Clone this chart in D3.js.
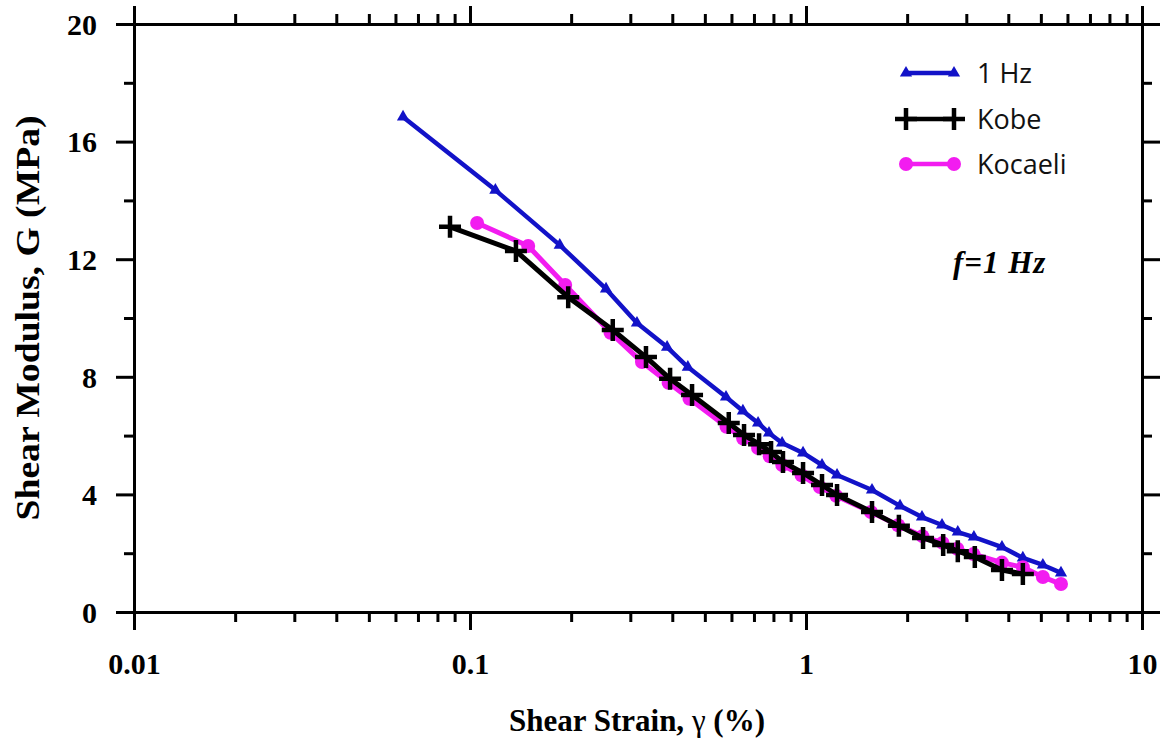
<!DOCTYPE html>
<html>
<head>
<meta charset="utf-8">
<script src="https://cdn.jsdelivr.net/npm/d3@7"></script>
<style>
  body { margin: 0; background: #fff; }
  svg { display: block; }
</style>
</head>
<body>
<svg id="canvas" width="1166" height="745"></svg>
<script>
// strain (%) and shear modulus (MPa)
const hzStrain = [0.0632, 0.119, 0.185, 0.254, 0.314, 0.386, 0.445, 0.578, 0.649, 0.72, 0.776, 0.849, 0.98, 1.116, 1.237, 1.572, 1.905, 2.214, 2.54, 2.83, 3.16, 3.83, 4.42, 5.07, 5.74]
const hzG = [16.84, 14.35, 12.48, 10.99, 9.83, 9.01, 8.33, 7.31, 6.84, 6.43, 6.09, 5.75, 5.41, 5.0, 4.66, 4.15, 3.61, 3.23, 2.96, 2.72, 2.55, 2.21, 1.84, 1.60, 1.33]

const kobeStrain = [0.0872, 0.137, 0.196, 0.266, 0.334, 0.394, 0.458, 0.589, 0.654, 0.725, 0.787, 0.854, 0.98, 1.116, 1.237, 1.572, 1.89, 2.23, 2.56, 2.83, 3.18, 3.83, 4.42]
const kobeG = [13.10, 12.28, 10.71, 9.59, 8.67, 7.93, 7.38, 6.43, 6.02, 5.71, 5.44, 5.10, 4.73, 4.32, 3.98, 3.40, 2.93, 2.52, 2.28, 2.07, 1.87, 1.43, 1.29]

const kocaeliStrain = [0.105, 0.149, 0.192, 0.262, 0.325, 0.39, 0.45, 0.58, 0.65, 0.72, 0.78, 0.85, 0.97, 1.10, 1.23, 1.56, 1.88, 2.22, 2.55, 2.82, 3.15, 3.83, 4.42, 5.07, 5.74]
const kocaeliG = [13.23, 12.45, 11.12, 9.50, 8.50, 7.80, 7.25, 6.30, 5.90, 5.58, 5.30, 5.00, 4.65, 4.25, 3.95, 3.40, 2.95, 2.58, 2.35, 2.15, 1.97, 1.68, 1.52, 1.19, 0.95]

const xMajor = [0.01, 0.1, 1, 10]
const xLabels = ['0.01', '0.1', '1', '10']
const yMajor = [0, 4, 8, 12, 16, 20]
const yMinor = [2, 6, 10, 14, 18]

const seriesNames = ['1 Hz', 'Kobe', 'Kocaeli']

let svg = d3.select('#canvas')

const plotLeft = 134, plotRight = 1142, plotTop = 24, plotBottom = 612

let x = d3.scaleLog().domain([0.01, 10]).range([plotLeft, plotRight])
let y = d3.scaleLinear().domain([0, 20]).range([plotBottom, plotTop])

let xMinor = []
for (let d = 0.01; d < 10; d *= 10) {
  for (let k = 2; k <= 9; k++) xMinor.push(+(d * k).toPrecision(3))
}

let styleAxis = g => {
  g.select('.domain').attr('stroke', '#000').attr('stroke-width', 3)
  g.selectAll('.tick line').attr('stroke', '#000').attr('stroke-width', 3)
}

let drawAxis = (axisFn, scale, majors, minors, transform, labels) => {
  let gMin = svg.append('g').attr('transform', transform)
    .call(axisFn(scale).tickValues(minors).tickSize(10).tickSizeOuter(0).tickFormat(''))
  styleAxis(gMin)
  let gMaj = svg.append('g').attr('transform', transform)
    .call(axisFn(scale).tickValues(majors).tickSize(18).tickSizeOuter(0).tickPadding(12)
      .tickFormat(labels ? labels : ''))
  styleAxis(gMaj)
  gMaj.selectAll('text')
    .attr('font-family', '"Liberation Serif", "Times New Roman", serif')
    .attr('font-weight', 'bold')
    .attr('font-size', 30)
    .attr('fill', '#000')
  return gMaj
}

drawAxis(d3.axisBottom, x, xMajor, xMinor, `translate(0,${plotBottom})`, (d, i) => xLabels[i])
  .selectAll('text').attr('dy', '1.05em')
drawAxis(d3.axisTop, x, xMajor, xMinor, `translate(0,${plotTop})`, null)
drawAxis(d3.axisLeft, y, yMajor, yMinor, `translate(${plotLeft},0)`, d => d)
  .selectAll('text').attr('dy', '0.34em').attr('x', -37)
drawAxis(d3.axisRight, y, yMajor, yMinor, `translate(${plotRight},0)`, null)

// axis titles
let xt = svg.append('text')
  .attr('x', 637).attr('y', 731)
  .attr('text-anchor', 'middle')
  .attr('font-family', '"Liberation Serif", "Times New Roman", serif')
  .attr('font-weight', 'bold').attr('font-size', 31)
xt.append('tspan').text('Shear Strain, ')
xt.append('tspan').attr('font-weight', 'normal').text('γ')
xt.append('tspan').text(' (%)')

svg.append('text')
  .attr('transform', 'translate(39,318) rotate(-90)')
  .attr('text-anchor', 'middle')
  .attr('font-family', '"Liberation Serif", "Times New Roman", serif')
  .attr('font-weight', 'bold').attr('font-size', 33)
  .attr('textLength', 405).attr('lengthAdjust', 'spacingAndGlyphs')
  .text('Shear Modulus, G (MPa)')

// data
const colors = ['#1212c8', '#000000', '#f21cf0']
const strains = [hzStrain, kobeStrain, kocaeliStrain]
const moduli = [hzG, kobeG, kocaeliG]
const widths = [4.5, 5, 5]

let line = d3.line().x(d => x(d[0])).y(d => y(d[1]))

let tri = d3.symbol().type(d3.symbolTriangle).size(65)

let drawMarker = (g, i, px, py) => {
  if (i === 0) {
    g.append('path').attr('d', tri()).attr('transform', `translate(${px},${py})`)
      .attr('fill', colors[0])
  } else if (i === 1) {
    g.append('path').attr('d', 'M-11,0H11M0,-11V11').attr('transform', `translate(${px},${py})`)
      .attr('stroke', '#000').attr('stroke-width', 4.5).attr('fill', 'none')
  } else {
    g.append('circle').attr('cx', px).attr('cy', py).attr('r', 7).attr('fill', colors[2])
  }
}

// draw order: blue, magenta, black (black sits on top of magenta)
;[0, 2, 1].forEach(i => {
  let pts = strains[i].map((s, j) => [s, moduli[i][j]])
  let g = svg.append('g')
  g.append('path').datum(pts)
    .attr('d', line)
    .attr('fill', 'none')
    .attr('stroke', colors[i])
    .attr('stroke-width', widths[i])
    .attr('stroke-linejoin', 'round')
  pts.forEach(p => drawMarker(g, i, x(p[0]), y(p[1])))
})

// legend
const legY = [73, 119, 164]
seriesNames.forEach((name, i) => {
  let g = svg.append('g')
  g.append('line').attr('x1', 906).attr('x2', 954)
    .attr('y1', legY[i]).attr('y2', legY[i])
    .attr('stroke', colors[i]).attr('stroke-width', 4.5)
  drawMarker(g, i, 906, legY[i])
  drawMarker(g, i, 954, legY[i])
  g.append('text').attr('x', 977).attr('y', legY[i] + 10)
    .attr('font-family', '"Open Sans", sans-serif')
    .attr('font-size', 27).attr('fill', '#111')
    .text(name)
})

svg.append('text')
  .attr('x', 953).attr('y', 273)
  .attr('font-family', '"Liberation Serif", "Times New Roman", serif')
  .attr('font-weight', 'bold').attr('font-style', 'italic')
  .attr('font-size', 31).attr('letter-spacing', 1)
  .text('f=1 Hz')
</script>
</body>
</html>
